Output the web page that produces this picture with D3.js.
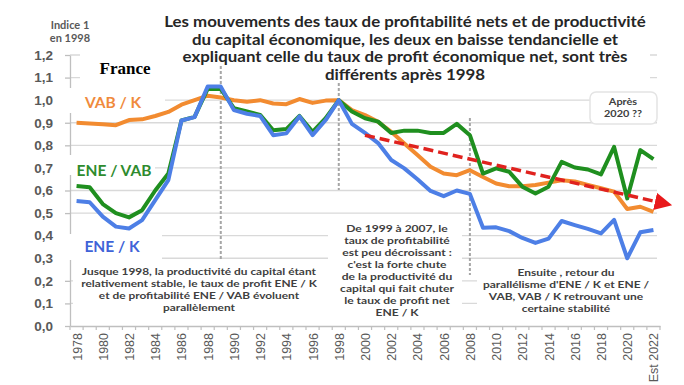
<!DOCTYPE html>
<html>
<head>
<meta charset="utf-8">
<script src="https://cdn.jsdelivr.net/npm/d3@7"></script>
<style>
  body { margin: 0; background: #fff; }
  svg { display: block; font-family: Lato, "Open Sans", sans-serif; }
</style>
</head>
<body>
<div id="chart"></div>
<script>
const years = [1978, 1979, 1980, 1981, 1982, 1983, 1984, 1985, 1986, 1987, 1988, 1989,
  1990, 1991, 1992, 1993, 1994, 1995, 1996, 1997, 1998, 1999, 2000, 2001, 2002, 2003,
  2004, 2005, 2006, 2007, 2008, 2009, 2010, 2011, 2012, 2013, 2014, 2015, 2016, 2017,
  2018, 2019, 2020, 2021, 2022];

const vabK = [0.90, 0.897, 0.893, 0.889, 0.912, 0.915, 0.93, 0.948, 0.98, 1.0, 1.02, 1.012,
  1.0, 0.993, 1.0, 0.985, 0.982, 1.005, 0.988, 0.998, 1.0,
  0.956, 0.934, 0.904, 0.86, 0.808, 0.757, 0.705, 0.675, 0.668, 0.69,
  0.66, 0.631, 0.619, 0.619, 0.624, 0.635, 0.645, 0.64, 0.625, 0.61, 0.595, 0.518, 0.528, 0.505];

const eneVab = [0.62, 0.614, 0.54, 0.50, 0.481, 0.513, 0.60, 0.675, 0.91, 0.926, 1.05, 1.05,
  0.965, 0.95, 0.935, 0.867, 0.872, 0.93, 0.86, 0.92, 1.0,
  0.95, 0.92, 0.905, 0.855, 0.865, 0.865, 0.855, 0.855, 0.895, 0.845,
  0.675, 0.698, 0.683, 0.617, 0.587, 0.617, 0.727, 0.702, 0.693, 0.671, 0.793, 0.565, 0.779, 0.739];

const eneK = [0.553, 0.548, 0.484, 0.44, 0.432, 0.469, 0.557, 0.646, 0.91, 0.925, 1.06, 1.06,
  0.956, 0.94, 0.93, 0.845, 0.853, 0.928, 0.845, 0.912, 1.0,
  0.895, 0.855, 0.81, 0.735, 0.698, 0.65, 0.598, 0.575, 0.60, 0.585,
  0.435, 0.437, 0.42, 0.39, 0.368, 0.387, 0.465, 0.447, 0.43, 0.41, 0.47, 0.30, 0.415, 0.425];

const xLabelYears = [1978, 1980, 1982, 1984, 1986, 1988, 1990, 1992, 1994, 1996, 1998, 2000,
  2002, 2004, 2006, 2008, 2010, 2012, 2014, 2016, 2018, 2020, 2022];
const xLabels = ["1978", "1980", "1982", "1984", "1986", "1988", "1990", "1992", "1994", "1996",
  "1998", "2000", "2002", "2004", "2006", "2008", "2010", "2012", "2014", "2016", "2018", "2020", "Est 2022"];
const yTicks = [0, 0.1, 0.2, 0.3, 0.4, 0.5, 0.6, 0.7, 0.8, 0.9, 1.0, 1.1, 1.2];

const trendYears = [2000, 2023.3];
const trendValues = [0.845, 0.535];

const titleLines = [
  "Les mouvements des taux de profitabilité nets et de productivité",
  "du capital économique, les deux en baisse tendancielle et",
  "expliquant celle du taux de profit économique net, sont très",
  "différents après 1998"
];
const note1 = ["Jusque 1998, la productivité du capital étant",
  "relativement stable, le taux de profit ENE / K",
  "et de profitabilité ENE / VAB évoluent",
  "parallèlement"];
const note2 = ["De 1999 à 2007, le", "taux de profitabilité", "est peu décroissant :",
  "c'est la forte chute", "de la productivité du", "capital qui fait chuter",
  "le taux de profit net", "ENE / K"];
const note3 = ["Ensuite , retour du", "parallélisme d'ENE / K et ENE /",
  "VAB, VAB / K retrouvant une", "certaine stabilité"];

const width = 684, height = 385;
const svg = d3.select("#chart").append("svg")
  .attr("width", width).attr("height", height);

const x = d3.scaleLinear().domain([1977.5, 2022.5]).range([70, 660]);
const y = d3.scaleLinear().domain([0, 1.2]).range([326, 55]);
const comma = d => d3.format(".1f")(d).replace(".", ",");

// grid
svg.append("g")
  .selectAll("line")
  .data(yTicks.filter(d => d > 0))
  .join("line")
  .attr("x1", 70).attr("x2", 657)
  .attr("y1", d => y(d)).attr("y2", d => y(d))
  .attr("stroke", "#d9d9d9").attr("stroke-width", 1.3);

// y axis
const yAxis = svg.append("g")
  .attr("transform", "translate(70,0)")
  .call(d3.axisLeft(y).tickValues(yTicks).tickFormat(comma).tickSize(5).tickPadding(12).tickSizeOuter(0));
yAxis.select(".domain").attr("stroke", "#bfbfbf").attr("stroke-width", 1.3);
yAxis.selectAll(".tick line").attr("stroke", "#bfbfbf").attr("stroke-width", 1.3);
yAxis.selectAll("text").attr("font-size", 13.5).attr("fill", "#595959")
  .attr("font-weight", 700).attr("font-family", null);

// x axis
const xAxis = svg.append("g")
  .attr("transform", `translate(0,${y(0)})`)
  .call(d3.axisBottom(x).tickValues(xLabelYears).tickFormat((d, i) => xLabels[i]).tickSize(0).tickSizeOuter(0));
xAxis.select(".domain").attr("stroke", "#bfbfbf").attr("stroke-width", 1.3);
xAxis.selectAll("text")
  .attr("transform", "rotate(-90)")
  .attr("text-anchor", "end")
  .attr("x", -7).attr("y", 0).attr("dy", "0.36em")
  .attr("font-size", 12.5).attr("fill", "#595959").attr("font-family", null);
svg.append("g")
  .selectAll("line")
  .data(years.concat([2023]))
  .join("line")
  .attr("x1", d => x(d - 0.5)).attr("x2", d => x(d - 0.5))
  .attr("y1", y(0)).attr("y2", y(0) + 4)
  .attr("stroke", "#bfbfbf").attr("stroke-width", 1.2);

// white boxes covering the grid
const boxes = [
  [80, 8, 570, 80],     // title
  [62, 88, 103, 25],    // VAB / K
  [62, 155, 93, 20],    // ENE / VAB
  [62, 234, 100, 26],   // ENE / K
  [73, 261, 255, 60],   // note 1
  [328, 217, 134, 104], // note 2
  [477, 262, 180, 60]   // note 3
];
svg.append("g")
  .selectAll("rect")
  .data(boxes)
  .join("rect")
  .attr("x", d => d[0]).attr("y", d => d[1])
  .attr("width", d => d[2]).attr("height", d => d[3])
  .attr("fill", "#fff");

// dashed separators
const seps = [[1989, 66, 260], [1998, 83, 190], [2008, 118, 275]];
svg.append("g")
  .selectAll("line")
  .data(seps)
  .join("line")
  .attr("x1", d => x(d[0])).attr("x2", d => x(d[0]))
  .attr("y1", d => d[1]).attr("y2", d => d[2])
  .attr("stroke", "#a6a6a6").attr("stroke-width", 2)
  .attr("stroke-dasharray", "3,2");

// centred text block, stretched a little horizontally to match the original face
function block(lines, cx, y0, step, size, stretch, color) {
  svg.append("g")
    .selectAll("text")
    .data(lines)
    .join("text")
    .attr("transform", (d, i) => `translate(${cx},${y0 + i * step}) scale(${stretch},1)`)
    .attr("text-anchor", "middle")
    .attr("font-size", size).attr("font-weight", 700).attr("fill", color)
    .text(d => d);
}

block(titleLines, 405, 27, 17.7, 14.6, 1.155, "#262626");

svg.append("text").attr("x", 70).attr("y", 29).attr("text-anchor", "middle")
  .attr("font-size", 11).attr("font-weight", 700).attr("fill", "#595959").text("Indice 1");
svg.append("text").attr("x", 70).attr("y", 42).attr("text-anchor", "middle")
  .attr("font-size", 11).attr("font-weight", 700).attr("fill", "#595959").text("en 1998");

svg.append("text").attr("x", 125).attr("y", 74).attr("text-anchor", "middle")
  .style("font-family", "'Liberation Serif', serif").attr("font-size", 17).attr("font-weight", 700)
  .attr("fill", "#000").text("France");

// series labels
const seriesLabels = [
  ["VAB / K", 113, 108, "#f08a3c"],
  ["ENE / VAB", 114, 176, "#2e8b2e"],
  ["ENE / K", 112, 252, "#3f63d8"]
];
svg.append("g")
  .selectAll("text")
  .data(seriesLabels)
  .join("text")
  .attr("x", d => d[1]).attr("y", d => d[2])
  .attr("text-anchor", "middle")
  .attr("font-size", 15.5).attr("font-weight", 700)
  .attr("fill", d => d[3])
  .text(d => d[0]);

// notes
block(note1, 199, 274.5, 12.2, 9.9, 1.2, "#404040");
block(note2, 397, 231.5, 12, 9.9, 1.22, "#404040");
block(note3, 566, 275.5, 12.2, 9.9, 1.21, "#404040");

// "Après 2020 ??" box
svg.append("rect")
  .attr("x", 590).attr("y", 92).attr("width", 67).attr("height", 32).attr("rx", 6)
  .attr("fill", "#fff").attr("stroke", "#e4e4e4").attr("stroke-width", 1.5);
block(["Après", "2020 ??"], 623, 105, 11.5, 9.5, 1.15, "#404040");

// lines
const line = d3.line().x((d, i) => x(years[i])).y(d => y(d));
const series = [[vabK, "#f28b30"], [eneVab, "#1f8f1f"], [eneK, "#4d7fe6"]];
svg.append("g")
  .selectAll("path")
  .data(series)
  .join("path")
  .attr("d", d => line(d[0]))
  .attr("fill", "none")
  .attr("stroke", d => d[1])
  .attr("stroke-width", 4)
  .attr("stroke-linejoin", "round");

// trend arrow
svg.append("defs").append("marker")
  .attr("id", "arrow")
  .attr("viewBox", "0 0 10 10")
  .attr("refX", 2).attr("refY", 5)
  .attr("markerWidth", 5).attr("markerHeight", 5)
  .attr("markerUnits", "strokeWidth")
  .attr("orient", "auto")
  .append("path")
  .attr("d", "M0,0 L10,5 L0,10 Z")
  .attr("fill", "#e8191b");

svg.append("line")
  .attr("x1", x(trendYears[0])).attr("y1", y(trendValues[0]))
  .attr("x2", x(trendYears[1]) - 12).attr("y2", y(trendValues[1]) - 3)
  .attr("stroke", "#e0221e").attr("stroke-width", 3.5)
  .attr("stroke-dasharray", "10,5")
  .attr("marker-end", "url(#arrow)");
</script>
</body>
</html>
